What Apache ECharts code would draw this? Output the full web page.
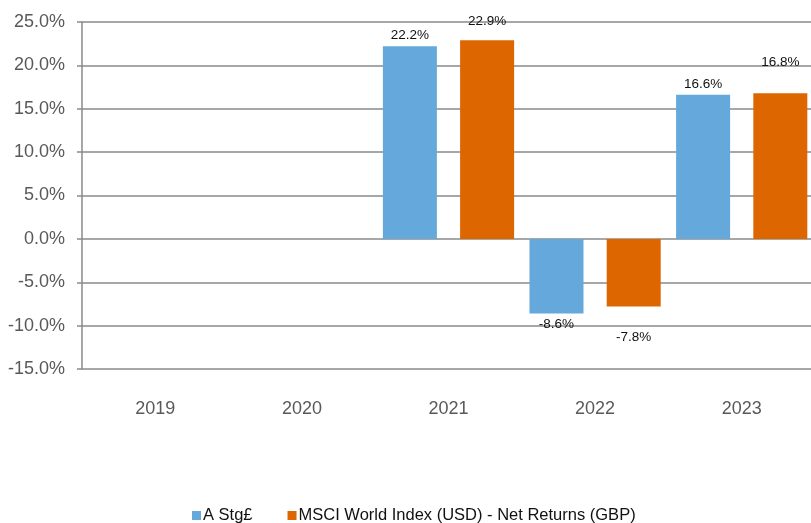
<!DOCTYPE html>
<html><head><meta charset="utf-8">
<script src="https://cdn.jsdelivr.net/npm/echarts@6/dist/echarts.min.js"></script>
<style>html,body{margin:0;padding:0;background:#fff}#c{width:811px;height:523px}</style>
</head><body><div id="c"></div>
<script>
const categories = ['2019','2020','2021','2022','2023'];
const seriesA = [null, null, 22.2, -8.6, 16.6];
const seriesMSCI = [null, null, 22.9, -7.8, 16.8];
const yTicks = {min: -15, max: 25, interval: 5};

const chart = echarts.init(document.getElementById('c'));
const font = '"Liberation Sans", Arial, sans-serif';
const fmt = p => p.value.toFixed(1) + '%';
// orange labels sit farther from the bar, except where they would leave the plot at the top
const msciData = seriesMSCI.map(v => (v !== null && v > 20) ? {value: v, label: {distance: 12}} : v);
chart.setOption({
  animation: false,
  textStyle: {fontFamily: font},
  grid: {left: 82, width: 733, top: 22, bottom: 154, containLabel: false, outerBoundsMode: 'none'},
  legend: {
    top: 507, left: 192, padding: 0, icon: 'rect', itemWidth: 9, itemHeight: 9, itemGap: 35,
    textStyle: {fontFamily: font, fontSize: 16.5, color: '#111', padding: [0,0,0,-3]},
    data: ['A Stg£', 'MSCI World Index (USD) - Net Returns (GBP)']
  },
  xAxis: {
    type: 'category', data: categories,
    axisLine: {show: false}, axisTick: {show: false},
    axisLabel: {fontFamily: font, fontSize: 18, color: '#595959', margin: 31}
  },
  yAxis: {
    type: 'value', min: yTicks.min, max: yTicks.max, interval: yTicks.interval,
    axisLine: {show: true, lineStyle: {color: '#8a8a8a', width: 1.5}},
    axisTick: {show: true, length: 5, lineStyle: {color: '#8a8a8a', width: 1.5}},
    splitLine: {show: true, lineStyle: {color: '#8a8a8a', width: 1.5}},
    axisLabel: {fontFamily: font, fontSize: 18, color: '#595959', margin: 17,
      formatter: v => v.toFixed(1) + '%'}
  },
  series: [
    {name: 'A Stg£', type: 'bar', data: seriesA, barWidth: 54, barGap: '43%',
     itemStyle: {color: '#65a9dc'},
     label: {show: true, position: 'outside', distance: 4, fontFamily: font, fontSize: 13.5, color: '#111',
       formatter: fmt}},
    {name: 'MSCI World Index (USD) - Net Returns (GBP)', type: 'bar', data: msciData, barWidth: 54,
     itemStyle: {color: '#dd6600'},
     label: {show: true, position: 'outside', distance: 24, fontFamily: font, fontSize: 13.5, color: '#111',
       formatter: fmt}}
  ]
});
</script></body></html>
